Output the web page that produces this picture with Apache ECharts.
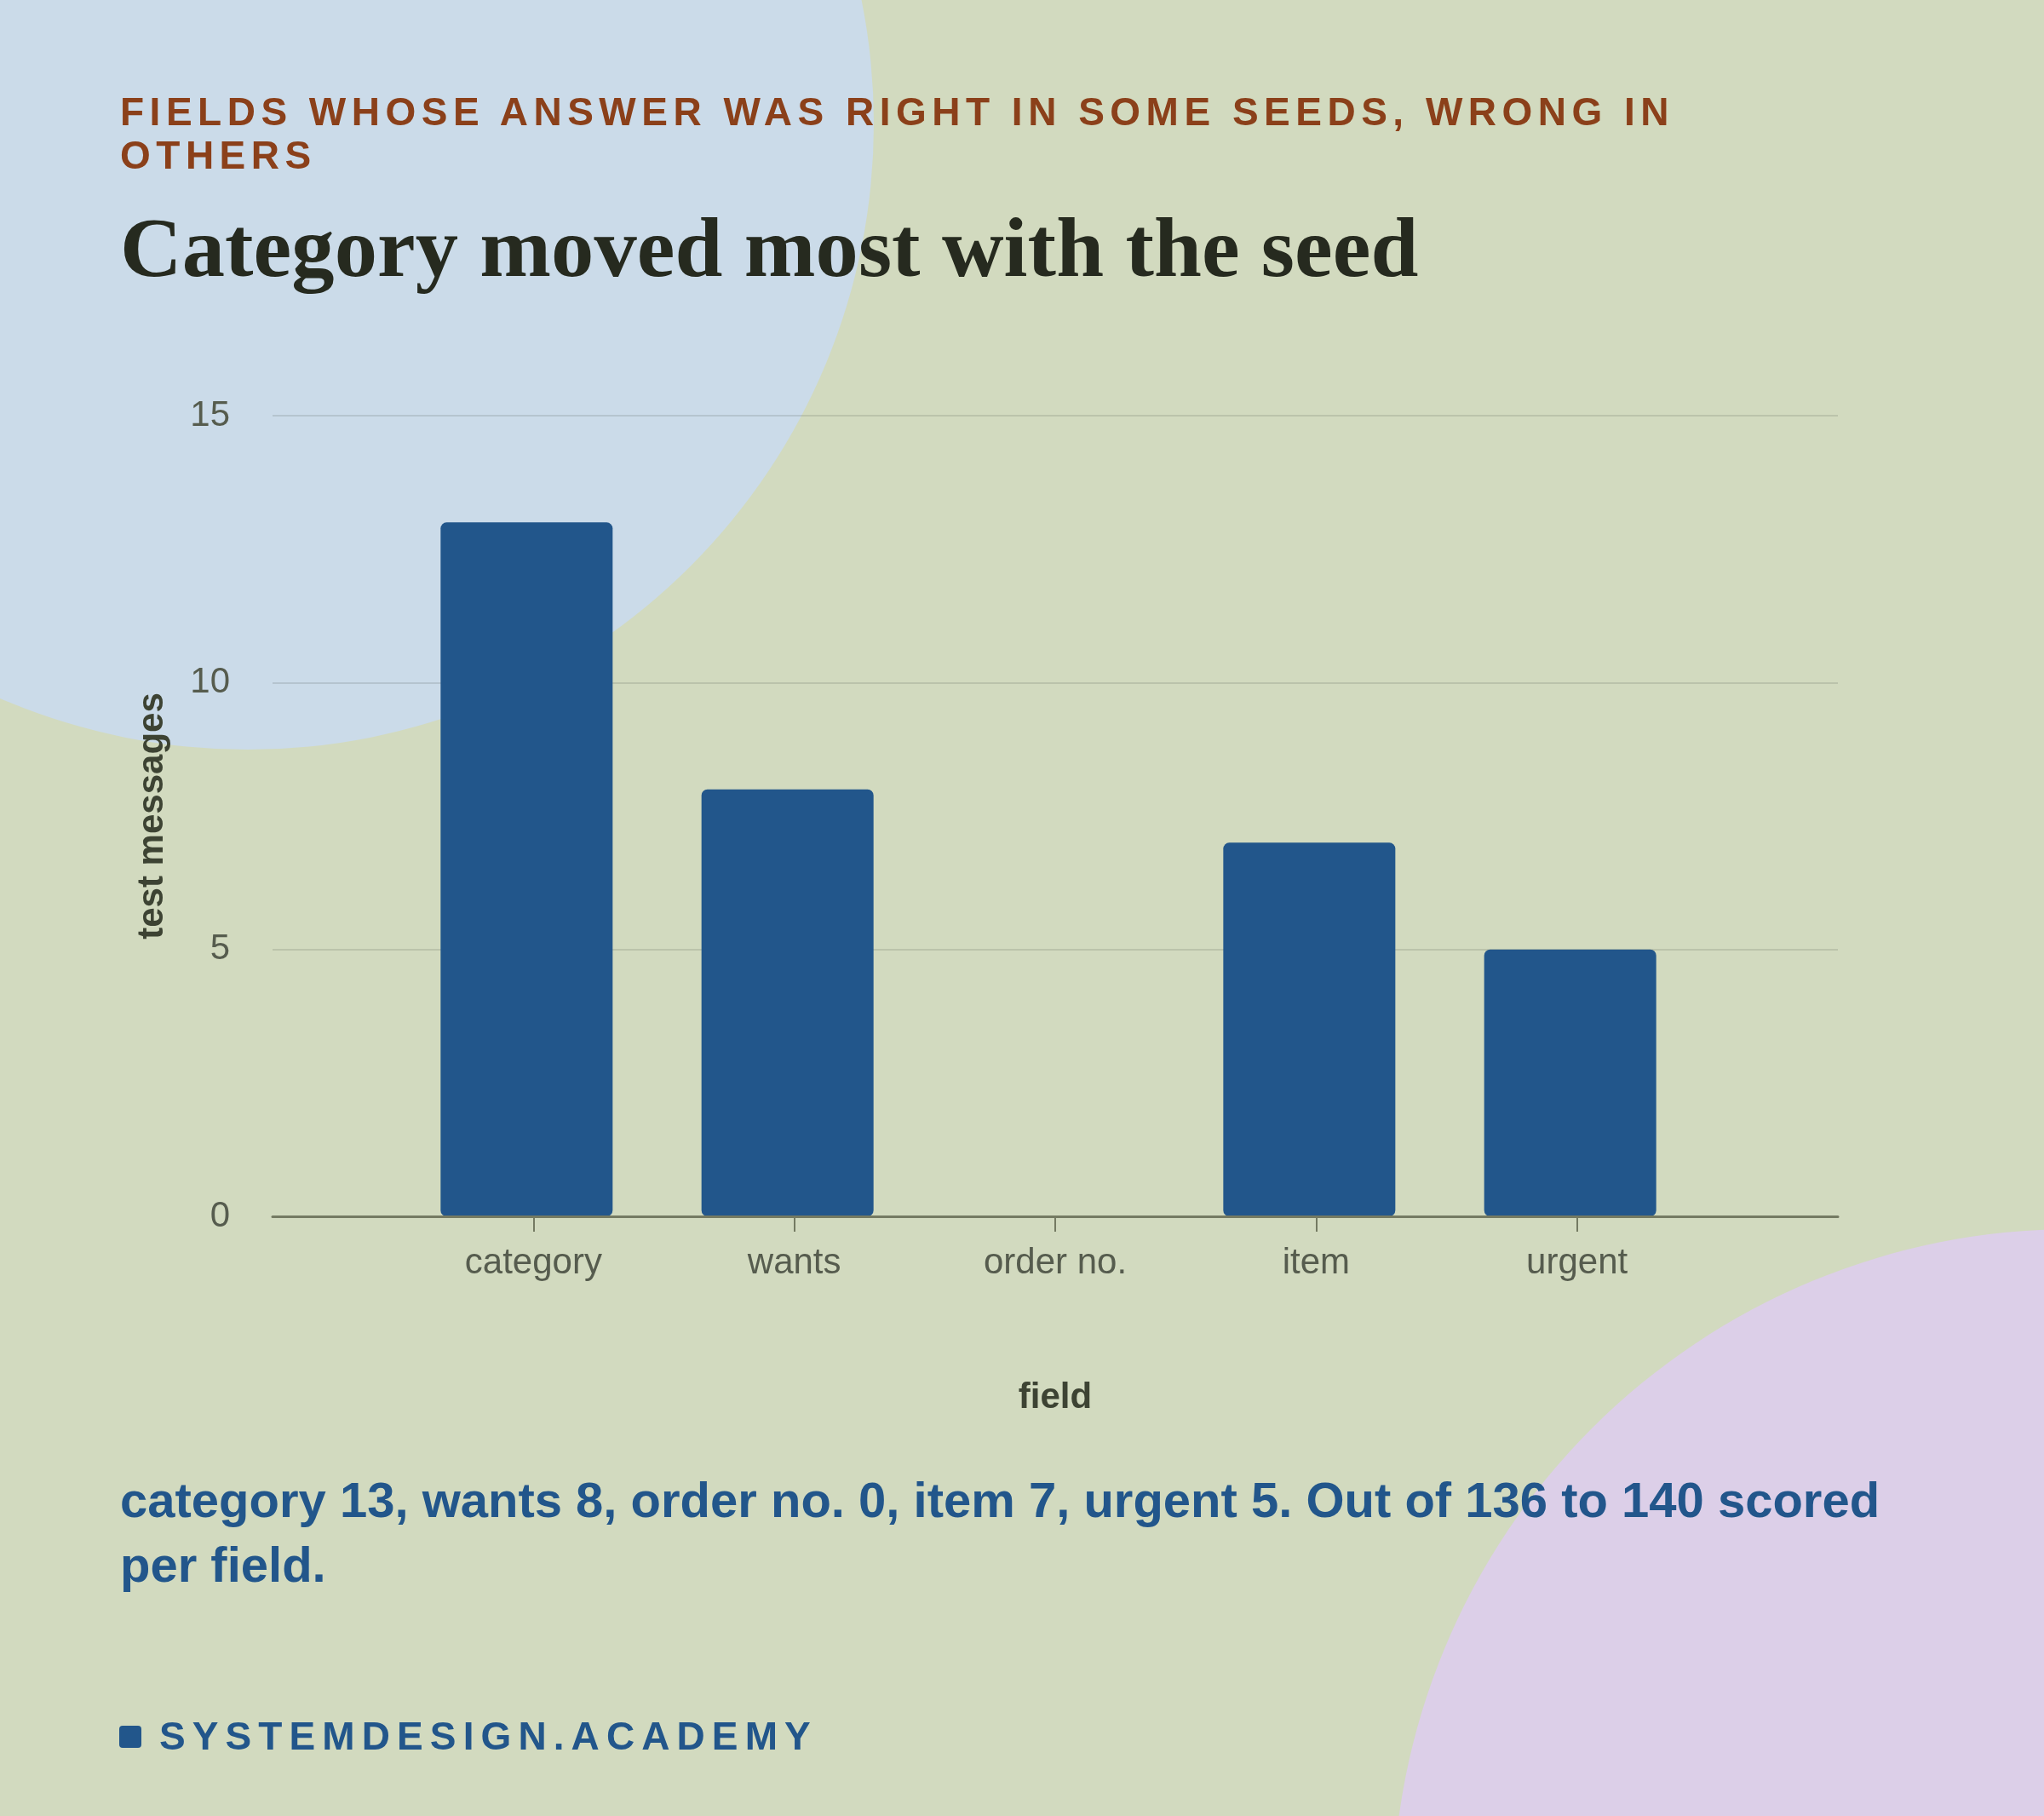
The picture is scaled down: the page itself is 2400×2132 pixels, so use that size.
<!DOCTYPE html>
<html>
<head>
<meta charset="utf-8">
<script src="https://cdn.jsdelivr.net/npm/echarts@6/dist/echarts.min.js"></script>
<style>
  html, body { margin: 0; padding: 0; background: #d2dabf; }
  #wrap { position: relative; width: 2400px; height: 2132px; overflow: hidden; }
  #chart { position: absolute; left: 0; top: 0; width: 2400px; height: 2132px; }
  .txt { position: absolute; white-space: nowrap; font-family: "Liberation Sans", Arial, sans-serif; }
  #kicker { left: 141px; top: 106px; font-size: 46px; line-height: 51px; font-weight: 700; letter-spacing: 6.5px; color: #8b401a; }
  #title { left: 141px; top: 241px; font-family: "Liberation Serif", "Times New Roman", serif; font-size: 100.5px; line-height: 98px; font-weight: 700; letter-spacing: 0.1px; color: #262a1f; }
  #caption { left: 141px; top: 1723px; font-size: 58px; line-height: 76px; font-weight: 700; color: #22568b; }
  #footer { left: 187px; top: 2015px; font-size: 46px; line-height: 46px; font-weight: 700; letter-spacing: 8.1px; color: #22568b; }
  #mark { position: absolute; left: 140px; top: 2026px; width: 26px; height: 26px; border-radius: 4px; background: #22568b; }
</style>
</head>
<body>
<div id="wrap">
  <div id="chart"></div>
  <div class="txt" id="kicker">FIELDS WHOSE ANSWER WAS RIGHT IN SOME SEEDS, WRONG IN<br>OTHERS</div>
  <div class="txt" id="title">Category moved most with the seed</div>
  <div class="txt" id="caption">category 13, wants 8, order no. 0, item 7, urgent 5. Out of 136 to 140 scored<br>per field.</div>
  <div id="mark"></div>
  <div class="txt" id="footer">SYSTEMDESIGN.ACADEMY</div>
</div>
<script>
// ---- data ----
const categories = ['category', 'wants', 'order no.', 'item', 'urgent'];
const values = [13, 8, 0, 7, 5];
const yTicks = [0, 5, 10, 15];
const xAxisName = 'field';
const yAxisName = 'test messages';

// padded axis so categories sit at inner points
const axisData = [''].concat(categories, ['']);
const barData = ['-'].concat(values, ['-']);

const chart = echarts.init(document.getElementById('chart'), null, { renderer: 'canvas', width: 2400, height: 2132 });

const font = 'Liberation Sans';
const option = {
  backgroundColor: '#d2dabf',
  animation: false,
  graphic: [
    { type: 'circle', z: -10, silent: true, shape: { cx: 291, cy: 145, r: 735 }, style: { fill: '#cbdbe9' } },
    { type: 'circle', z: -10, silent: true, shape: { cx: 2434, cy: 2242, r: 799 }, style: { fill: '#dccfe8' } }
  ],
  grid: [
    { left: 320, right: 242, top: 488, bottom: 704, containLabel: false },
    { left: 312, right: 250, top: 488, bottom: 704, containLabel: false }
  ],
  xAxis: [{
    type: 'category',
    gridIndex: 0,
    data: axisData,
    boundaryGap: false,
    name: xAxisName,
    nameLocation: 'middle',
    nameGap: 192,
    nameTextStyle: { fontFamily: font, fontSize: 42, fontWeight: 'bold', color: '#3d4333', verticalAlign: 'top' },
    axisLine: { show: true, lineStyle: { color: '#747a62', width: 3 } },
    axisTick: { show: true, length: 18, lineStyle: { color: '#747a62', width: 2 }, interval: function (i, v) { return v !== ''; } },
    axisLabel: { show: true, margin: 34, fontFamily: font, fontSize: 42, color: '#565c4e', interval: 0 },
    splitLine: { show: false },
    z: 3
  }, {
    type: 'category',
    gridIndex: 1,
    data: axisData,
    boundaryGap: false,
    show: false
  }],
  yAxis: [{
    type: 'value',
    gridIndex: 0,
    min: yTicks[0],
    max: yTicks[yTicks.length - 1],
    interval: yTicks[1] - yTicks[0],
    name: yAxisName,
    nameLocation: 'middle',
    nameGap: 120,
    nameTextStyle: { fontFamily: font, fontSize: 42, fontWeight: 'bold', color: '#3d4333' },
    axisLine: { show: false },
    axisTick: { show: false },
    axisLabel: { margin: 50, fontFamily: font, fontSize: 42, color: '#565c4e' },
    splitLine: { show: true, lineStyle: { color: 'rgba(60,70,60,0.15)', width: 2 } }
  }, {
    type: 'value',
    gridIndex: 1,
    min: yTicks[0],
    max: yTicks[yTicks.length - 1],
    interval: yTicks[1] - yTicks[0],
    show: false,
    splitLine: { show: false }
  }],
  series: [{
    type: 'bar',
    xAxisIndex: 1,
    yAxisIndex: 1,
    data: barData,
    barWidth: 202,
    itemStyle: { color: '#22568b', borderRadius: 7 },
    z: 1
  }]
};
chart.setOption(option);
</script>
</body>
</html>
